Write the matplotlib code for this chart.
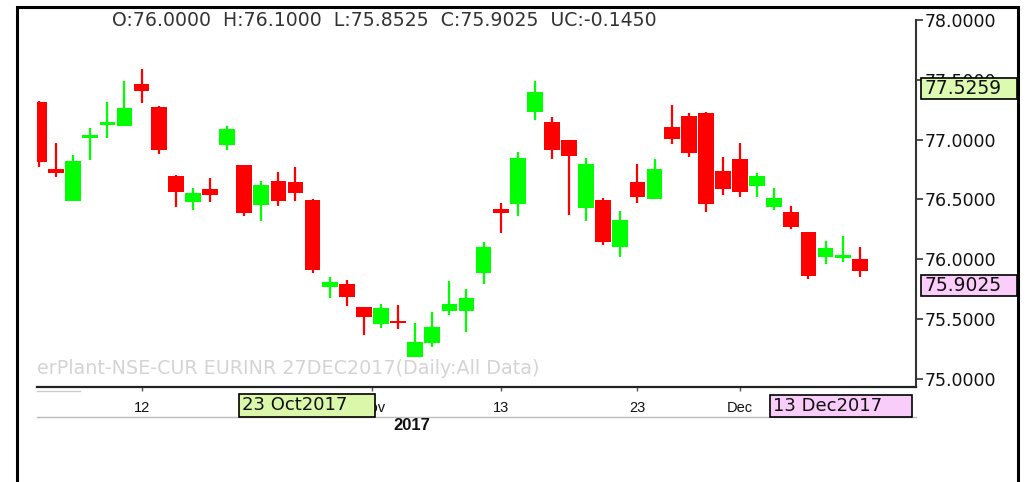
import matplotlib
matplotlib.use("Agg")
import matplotlib.pyplot as plt
from matplotlib.patches import Rectangle
from matplotlib.lines import Line2D

# EURINR 27DEC2017 daily candles
opens = [77.312, 76.751, 76.488, 77.013, 77.122, 77.116, 77.465, 77.275, 76.697, 76.475,
         76.584, 76.954, 76.785, 76.452, 76.656, 76.642, 76.494, 75.769, 75.789, 75.601,
         75.457, 75.479, 75.178, 75.295, 75.565, 75.568, 75.881, 76.419, 76.461, 77.228,
         77.149, 76.996, 76.425, 76.494, 76.098, 76.645, 76.500, 77.108, 77.200, 77.225,
         76.734, 76.835, 76.614, 76.438, 76.391, 76.229, 76.020, 76.011, 76.000]
highs = [77.320, 76.974, 76.871, 77.097, 77.312, 77.490, 77.588, 77.280, 76.700, 76.597,
         76.681, 77.113, 76.790, 76.656, 76.731, 76.773, 76.500, 75.852, 75.825, 75.600,
         75.624, 75.615, 75.462, 75.559, 75.816, 75.752, 76.143, 76.472, 76.898, 77.490,
         77.186, 77.000, 76.843, 76.513, 76.405, 76.795, 76.835, 77.289, 77.225, 77.230,
         76.856, 76.974, 76.723, 76.597, 76.444, 76.230, 76.154, 76.195, 76.100]
lows = [76.773, 76.689, 76.488, 76.829, 77.015, 77.110, 77.303, 76.877, 76.433, 76.410,
        76.475, 76.913, 76.360, 76.321, 76.446, 76.486, 75.881, 75.672, 75.607, 75.364,
        75.421, 75.415, 75.178, 75.267, 75.532, 75.392, 75.791, 76.221, 76.360, 77.164,
        76.835, 76.369, 76.321, 76.118, 76.020, 76.472, 76.500, 76.963, 76.851, 76.396,
        76.536, 76.522, 76.522, 76.410, 76.249, 75.831, 75.959, 75.978, 75.8525]
closes = [76.815, 76.723, 76.823, 77.032, 77.144, 77.262, 77.406, 76.913, 76.559, 76.550,
          76.538, 77.088, 76.388, 76.620, 76.488, 76.550, 75.908, 75.810, 75.685, 75.518,
          75.588, 75.462, 75.308, 75.434, 75.624, 75.677, 76.103, 76.383, 76.848, 77.400,
          76.913, 76.862, 76.795, 76.145, 76.327, 76.522, 76.756, 77.002, 76.890, 76.461,
          76.586, 76.561, 76.695, 76.508, 76.271, 75.858, 76.090, 76.031, 75.9025]

date_tick_pos = [6, 19.5, 27, 35, 41]
date_tick_labels = ['12', 'Nov', '13', '23', 'Dec']
price_ticks = [75.0, 75.5, 76.0, 76.5, 77.0, 77.5, 78.0]

header = "O:76.0000  H:76.1000  L:75.8525  C:75.9025  UC:-0.1450"
watermark = "erPlant-NSE-CUR EURINR 27DEC2017(Daily:All Data)"

W, H = 1030, 482


def fx(px):
    return px / W


def fy(py):
    return 1 - py / H


fig = plt.figure(figsize=(W / 100, H / 100), dpi=100)
fig.patch.set_facecolor('white')

ax = fig.add_axes([fx(37), fy(387), fx(916) - fx(37), fy(10) - fy(387)])
ax.set_facecolor('white')

UP, DOWN = '#00ff00', '#ff0000'
xs = list(range(len(opens)))
colors = [UP if c >= o else DOWN for o, c in zip(opens, closes)]
bottoms = [min(o, c) for o, c in zip(opens, closes)]
heights = [max(abs(c - o), 0.022) for o, c in zip(opens, closes)]

ax.vlines(xs, lows, highs, colors=colors, lw=1.6, zorder=2)
ax.bar(xs, heights, bottom=bottoms, width=0.92, color=colors, linewidth=0, zorder=3)

ax.set_xlim(-0.117, 51.29)
ax.set_ylim(74.929, 78.084)

for side in ['top', 'left']:
    ax.spines[side].set_visible(False)
ax.spines['bottom'].set_color('#222222')
ax.spines['bottom'].set_linewidth(1.6)
ax.spines['right'].set_color('#333333')
ax.spines['right'].set_linewidth(1.5)
ax.spines['right'].set_bounds(74.929, 78.0)

ax.yaxis.tick_right()
ax.set_yticks(price_ticks)
ax.set_yticklabels([f"{v:.4f}" for v in price_ticks])
ax.tick_params(axis='y', length=5, width=1.2, colors='#333333', labelcolor='#111111',
               labelsize=12.5, pad=1)

ax.set_xticks(date_tick_pos)
ax.set_xticklabels(date_tick_labels)
ax.tick_params(axis='x', length=3, width=1, colors='#555555', labelcolor='#111111',
               labelsize=10.5, pad=7)
for lbl in ax.get_xticklabels():
    lbl.set_family('Liberation Sans')

# header and watermark
fig.text(fx(112), fy(20), header, fontsize=13.6, color='#333333', ha='left', va='center')
fig.text(fx(37), fy(368), watermark, fontsize=13.8, color='#d4d4d4', ha='left', va='center')
fig.text(fx(412), fy(425), '2017', fontsize=12, fontweight='bold', color='#111111',
         ha='center', va='center', family='Liberation Sans')

# separator lines under the date axis
fig.add_artist(Line2D([fx(37), fx(916)], [fy(417), fy(417)], color='#bbbbbb', lw=1))
fig.add_artist(Line2D([fx(37), fx(80)], [fy(391), fy(391)], color='#cccccc', lw=1))


def label_box(x0, y0, x1, y1, face, text, size):
    fig.add_artist(Rectangle((fx(x0), fy(y1)), fx(x1) - fx(x0), fy(y0) - fy(y1),
                             transform=fig.transFigure, facecolor=face,
                             edgecolor='black', lw=1.2, zorder=5))
    fig.text(fx(x0 + 3), fy((y0 + y1) / 2), text, fontsize=size, color='#111111',
             ha='left', va='center', zorder=6)


label_box(239, 394, 375, 417, '#dbf7a9', '23 Oct2017', 13)
label_box(770, 395, 912, 417, '#f9cdf9', '13 Dec2017', 13)
label_box(921, 78, 1017, 99, '#ddfbb0', '77.5259', 13.5)
label_box(921, 275, 1017, 296, '#fbcdfb', '75.9025', 13.5)

# outer frame
fig.add_artist(Rectangle((fx(17), fy(490)), fx(1018) - fx(17), fy(7) - fy(490),
                         transform=fig.transFigure, fill=False, edgecolor='black',
                         lw=2.2, zorder=7, clip_on=False))

fig.savefig('out.png', dpi=100)
